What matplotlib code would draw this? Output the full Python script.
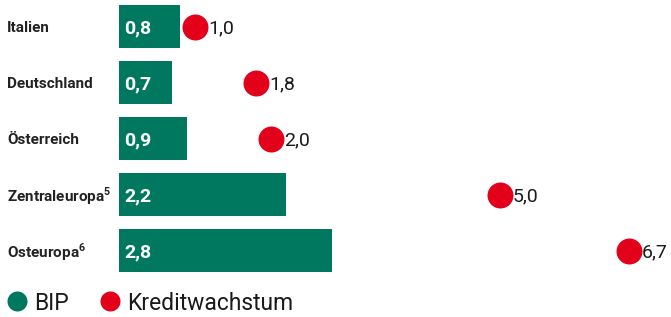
import matplotlib
matplotlib.use("Agg")
import matplotlib.pyplot as plt
from matplotlib.lines import Line2D

plt.rcParams['font.family'] = ['Roboto', 'DejaVu Sans']
plt.rcParams['mathtext.fontset'] = 'custom'
plt.rcParams['mathtext.rm'] = 'Roboto'
plt.rcParams['mathtext.bf'] = 'Roboto:bold'

regions = ['Italien', 'Deutschland', 'Österreich', r'Zentraleuropa$^\mathbf{5}$', r'Osteuropa$^\mathbf{6}$']
bip = [0.8, 0.7, 0.9, 2.2, 2.8]
kredit = [1.0, 1.8, 2.0, 5.0, 6.7]

green = '#00775f'
red = '#e2001a'

W, H = 671, 317
fig = plt.figure(figsize=(W / 100, H / 100), dpi=100)
# axes from x=119px to right edge, y from top to 278px
ax = fig.add_axes([119 / W, 1 - 278 / H, 1 - 119 / W, 278 / H])

pos = list(range(len(regions)))
ax.barh(pos, bip, height=0.77, color=green, zorder=1)
ax.scatter(kredit, pos, s=350, color=red, zorder=2, linewidths=0)

def fmt(v):
    return f'{v:.1f}'.replace('.', ',')

for y, v in zip(pos, bip):
    ax.annotate(fmt(v), (0, y), xytext=(4, -1.2), textcoords='offset points',
                ha='left', va='center', color='white', fontsize=14, fontweight='bold')
for y, v in zip(pos, kredit):
    ax.annotate(fmt(v), (v, y), xytext=(9.5, -1.2), textcoords='offset points',
                ha='left', va='center', color='#1a1a1a', fontsize=14)

ax.set_xlim(0, (W - 119) / 76.1)
ax.set_ylim((278 - 26.5) / 56, -26.5 / 56)
ax.axis('off')

for y, name in zip(pos, regions):
    py = 28 + 56 * y
    fig.text(7 / W, 1 - py / H, name, ha='left', va='center',
             fontsize=11, fontweight='bold', color='#222222')

handles = [Line2D([], [], marker='o', linestyle='', markersize=14.4, color=green, markeredgewidth=0),
           Line2D([], [], marker='o', linestyle='', markersize=14.4, color=red, markeredgewidth=0)]
fig.legend(handles, ['BIP', 'Kreditwachstum'], loc='center left',
           bbox_to_anchor=(1 / W, 1 - 303 / H), ncol=2, frameon=False,
           fontsize=16.5, handletextpad=0.25, columnspacing=1.3, handlelength=1.0,
           borderaxespad=0, borderpad=0.2, labelcolor='#1a1a1a')

fig.savefig('out.png', dpi=100)
